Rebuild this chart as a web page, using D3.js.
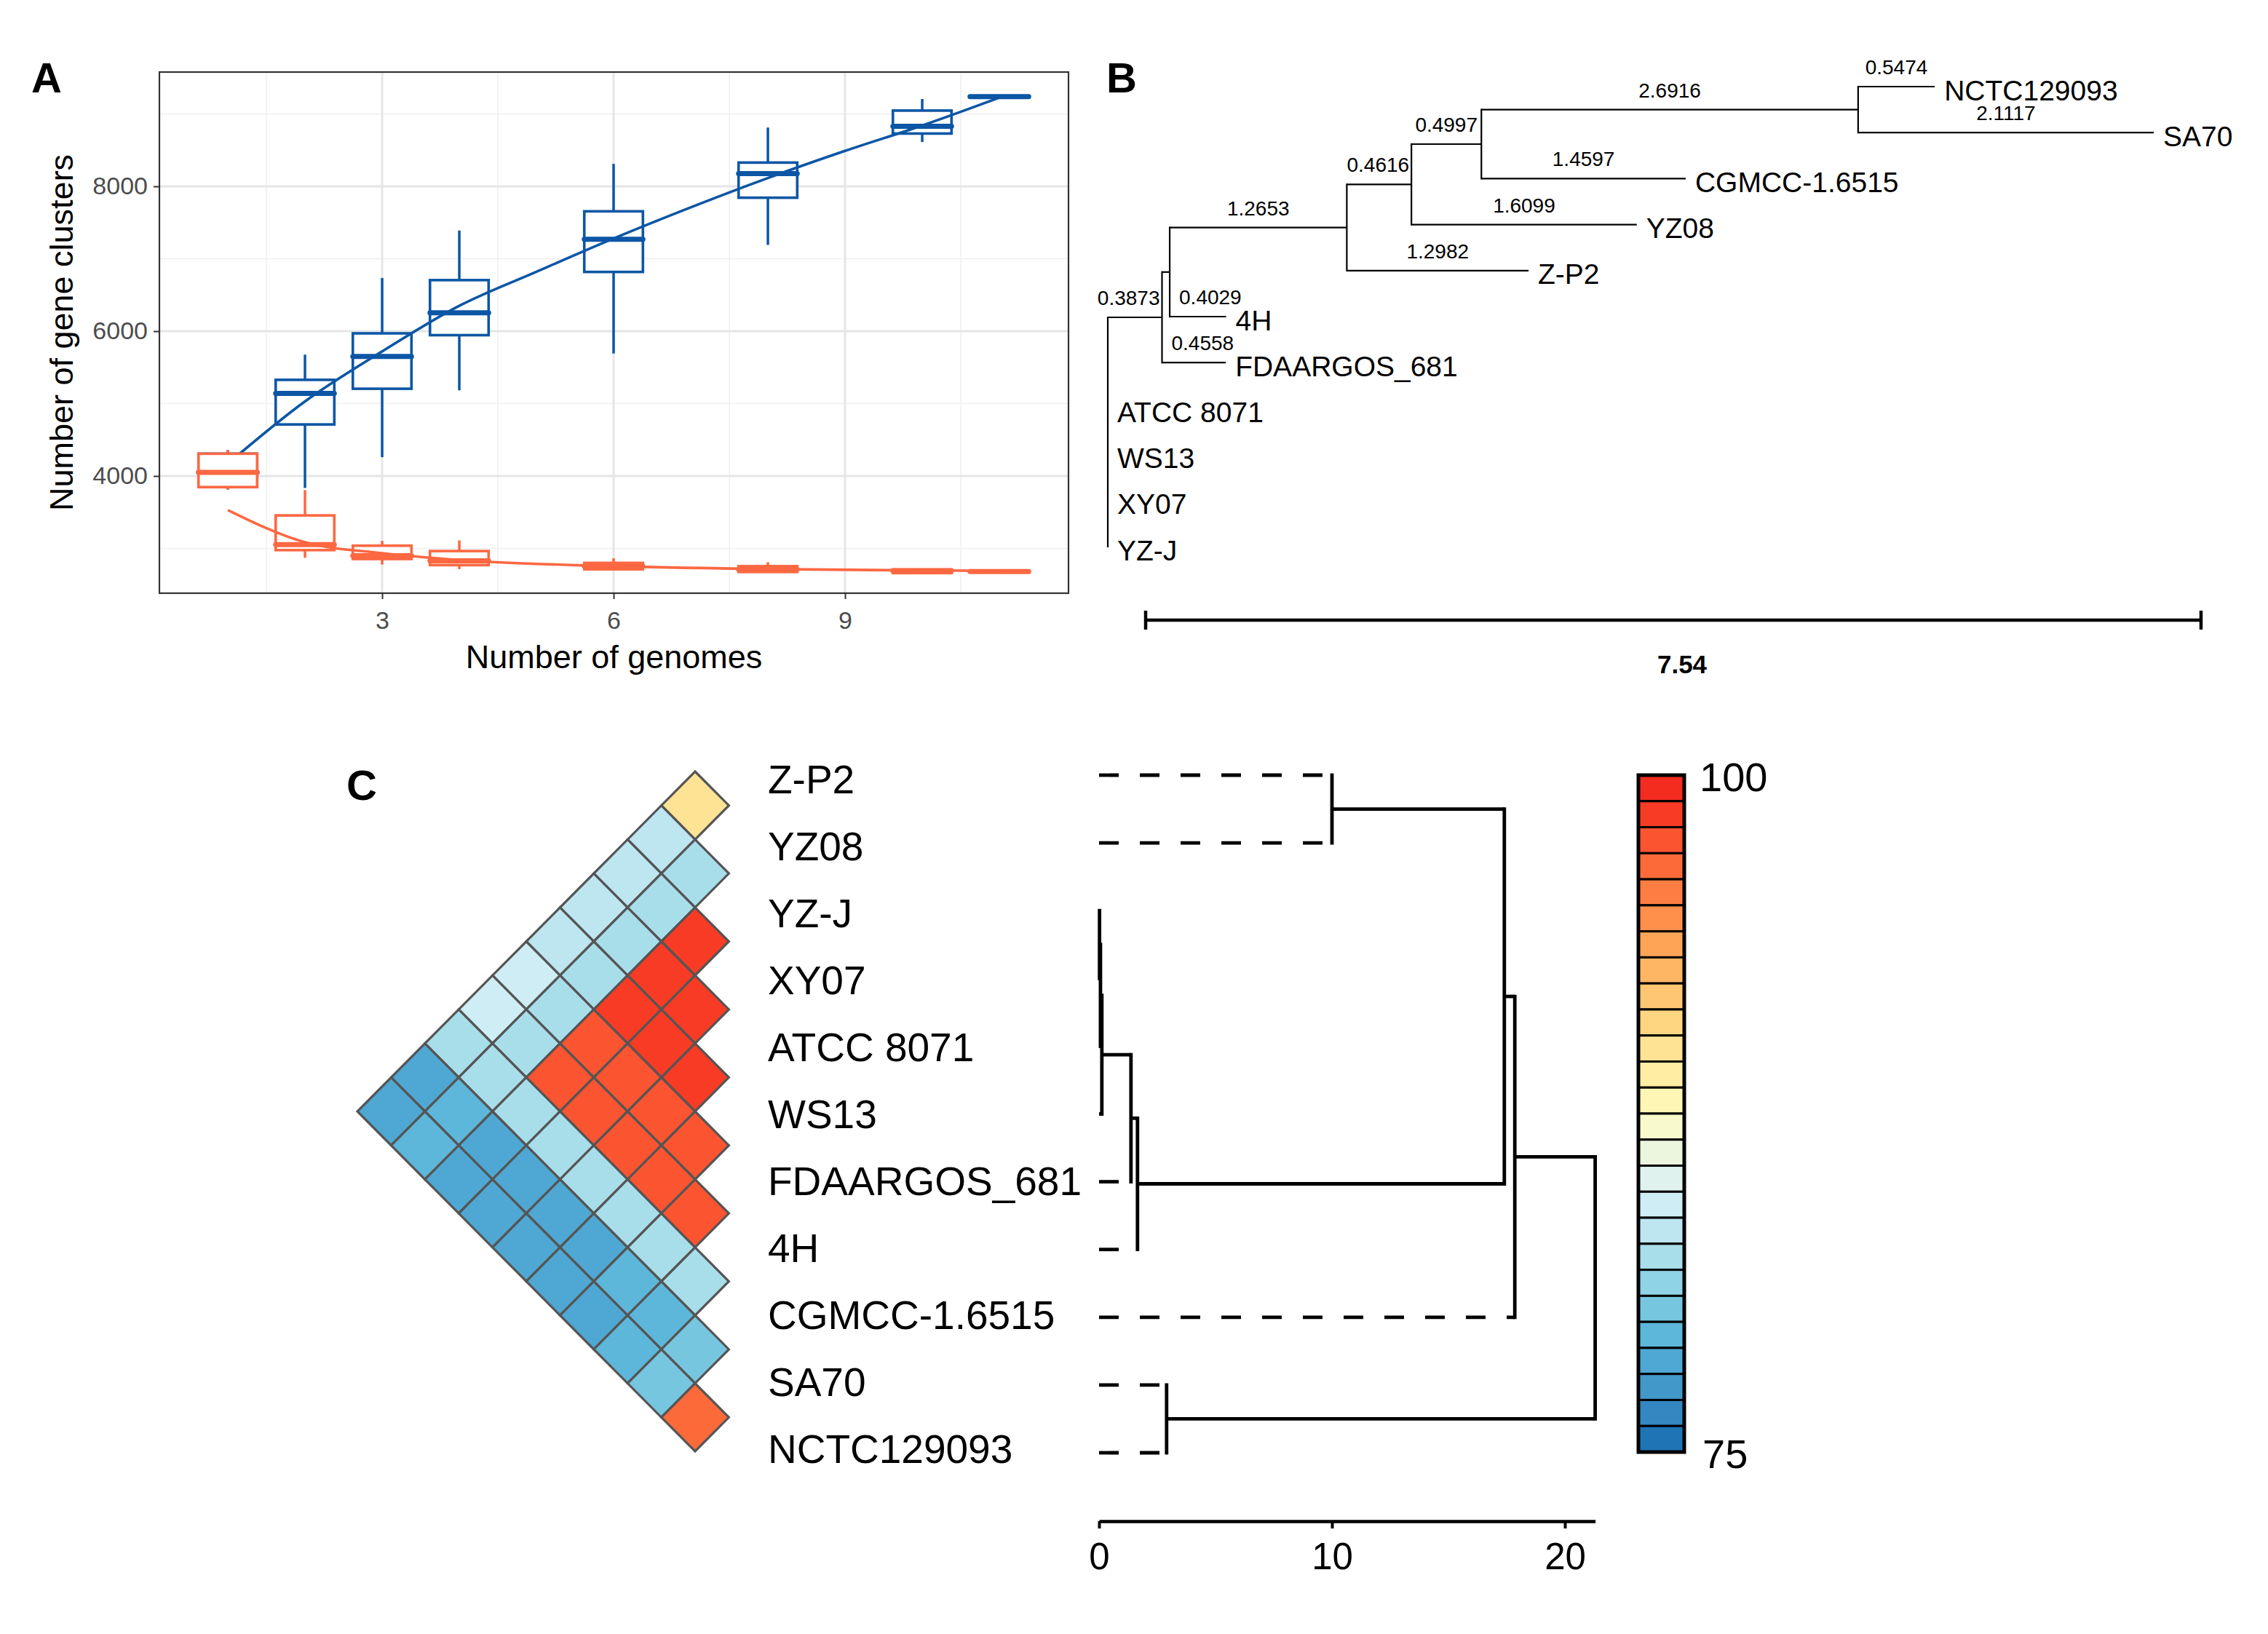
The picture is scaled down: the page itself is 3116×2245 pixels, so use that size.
<!DOCTYPE html>
<html><head><meta charset="utf-8">
<script src="https://cdn.jsdelivr.net/npm/d3@7"></script>
<style>
body{margin:0;background:#fff;}
svg{display:block;font-family:"Liberation Sans",Arial,Helvetica,sans-serif;}
</style>
</head><body>
<svg id="fig" width="3116" height="2245"></svg>
<script>
// ================= DATA =================
// ---- Panel A : pan / core genome curves ----
const genomeCounts = [1, 2, 3, 4, 6, 8, 10, 11];
// each box: [lower whisker, Q1, median, Q3, upper whisker]
const panBoxes = [
  [3813, 3847, 4050, 4308, 4358],
  [3835, 4712, 5140, 5328, 5676],
  [4260, 5205, 5650, 5970, 6735],
  [5183, 5945, 6255, 6705, 7390],
  [5692, 6818, 7270, 7655, 8310],
  [7191, 7843, 8177, 8328, 8812],
  [8612, 8729, 8829, 9046, 9206],
  [9238, 9238, 9238, 9238, 9238]
];
const coreBoxes = [
  [3813, 3847, 4050, 4308, 4358],
  [2870, 2977, 3054, 3456, 3806],
  [2777, 2854, 2900, 3038, 3105],
  [2714, 2770, 2830, 2964, 3111],
  [2697, 2712, 2755, 2800, 2864],
  [2670, 2675, 2712, 2755, 2810],
  [2655, 2660, 2692, 2710, 2720],
  [2680, 2680, 2680, 2680, 2680]
];
const panCurveX = [1, 2, 3, 4, 5, 6, 7, 8, 9, 10, 11];
const panCurveY = [4170, 5030, 5720, 6350, 6820, 7280, 7710, 8115, 8490, 8840, 9225];
const coreCurveX = [1, 2, 3, 4, 6, 8, 10, 11];
const coreCurveY = [3530, 3085, 2935, 2840, 2755, 2715, 2697, 2690];
const yTicksA = [4000, 6000, 8000];
const yMinorA = [3000, 5000, 7000, 9000];
const xTicksA = [3, 6, 9];
const xMinorA = [1.5, 4.5, 7.5, 10.5];

// ---- Panel B : phylogenetic tree (pre-order) ----
const treeIds     = ["root","n1","n2","n3","n4","n5","n6","NCTC129093","SA70","CGMCC-1.6515","YZ08","Z-P2","4H","FDAARGOS_681","ATCC 8071","WS13","XY07","YZ-J"];
const treeParents = ["",    "root","n1","n2","n3","n4","n5","n6","n6","n5","n4","n3","n2","n1","root","root","root","root"];
const treeLengths = [0, 0.3873, 0.055, 1.2653, 0.4616, 0.4997, 2.6916, 0.5474, 2.1117, 1.4597, 1.6099, 1.2982, 0.4029, 0.4558, 0, 0, 0, 0];
const treeScaleValue = 7.54;

// ---- Panel C : identity heatmap + dendrogram ----
const strainsC = ["Z-P2","YZ08","YZ-J","XY07","ATCC 8071","WS13","FDAARGOS_681","4H","CGMCC-1.6515","SA70","NCTC129093"];
// identityRows[i] = values of strain i against strains i+1 .. 10
const identityRows = [
  [89.9, 83.2, 83.2, 83.2, 83.2, 84.1, 84.1, 82.2, 78.4, 78.4],
  [82.2, 82.2, 82.2, 82.2, 82.2, 82.2, 82.2, 79.3, 79.3],
  [98.6, 98.6, 98.6, 97.6, 97.6, 82.2, 78.4, 78.4],
  [98.6, 98.6, 97.6, 97.6, 82.2, 78.4, 78.4],
  [98.6, 97.6, 97.6, 82.2, 78.4, 78.4],
  [97.6, 97.6, 82.2, 78.4, 78.4],
  [97.6, 82.2, 79.3, 78.4],
  [82.2, 79.3, 79.3],
  [80.3, 80.0],
  [96.6]
];
const dendroIds     = ["root","b","a","g1","Z-P2","YZ08","e","d","c3","c2","c1","YZ-J","XY07","ATCC 8071","WS13","FDAARGOS_681","4H","CGMCC-1.6515","f","SA70","NCTC129093"];
const dendroParents = ["",    "root","b","a","g1","g1","a","e","d","c3","c2","c1","c1","c2","c3","d","e","b","root","f","f"];
const dendroHeights = [21.3, 17.85, 17.4, 10.0, 0, 0, 1.65, 1.37, 0.12, 0.06, 0.02, 0, 0, 0, 0, 0, 0, 0, 2.9, 0, 0];
const dendroTicks = [0, 10, 20];
const colorbarLabels = ["100", "75"];
const colorDomain = [75, 100];
// colour key, top (100) to bottom (75)
const palette = ["#F42B1F","#F73B24","#FB5430","#FC6A3A","#FD7D43","#FE904C","#FEA457","#FEB664","#FEC672","#FED580",
                 "#FEE395","#FEEDA3","#FEF6B5","#F9FACB","#ECF6DF","#DFF2EE","#CFEDF5","#BEE6F1","#A8DEEA","#8FD3E6",
                 "#76C6E0","#5DB7DA","#4FA8D3","#4398CA","#3487C0","#1F74B6"];

// ================= DRAW =================
const svg = d3.select("#fig");
svg.append("rect").attr("width",3116).attr("height",2245).attr("fill","#fff");

function panelLabel(t, x, y){
  svg.append("text").attr("x",x).attr("y",y).attr("font-size",58).attr("font-weight","bold").attr("fill","#000").text(t);
}

// ---------- Panel A ----------
const PA = {l:219, r:1468, t:99, b:815};
const xA = d3.scaleLinear().domain([0.113, 11.896]).range([PA.l, PA.r]);
const yA = d3.scaleLinear().domain([2382, 9578]).range([PA.b, PA.t]);
const gA = svg.append("g");

// grid
gA.selectAll(".vmin").data(xMinorA).join("line")
  .attr("x1",d=>xA(d)).attr("x2",d=>xA(d)).attr("y1",PA.t).attr("y2",PA.b)
  .attr("stroke","#EFEFEF").attr("stroke-width",1.5);
gA.selectAll(".hmin").data(yMinorA).join("line")
  .attr("y1",d=>yA(d)).attr("y2",d=>yA(d)).attr("x1",PA.l).attr("x2",PA.r)
  .attr("stroke","#EFEFEF").attr("stroke-width",1.5);
gA.selectAll(".vmaj").data(xTicksA).join("line")
  .attr("x1",d=>xA(d)).attr("x2",d=>xA(d)).attr("y1",PA.t).attr("y2",PA.b)
  .attr("stroke","#E6E6E6").attr("stroke-width",3);
gA.selectAll(".hmaj").data(yTicksA).join("line")
  .attr("y1",d=>yA(d)).attr("y2",d=>yA(d)).attr("x1",PA.l).attr("x2",PA.r)
  .attr("stroke","#E6E6E6").attr("stroke-width",3);

const boxHalf = 0.38;
function drawBoxes(stats, color){
  const g = gA.append("g");
  stats.forEach((s, i) => {
    const x = genomeCounts[i];
    const cx = xA(x), x0 = xA(x - boxHalf), x1 = xA(x + boxHalf);
    g.append("line").attr("x1",cx).attr("x2",cx).attr("y1",yA(s[0])).attr("y2",yA(s[1]))
      .attr("stroke",color).attr("stroke-width",3.5);
    g.append("line").attr("x1",cx).attr("x2",cx).attr("y1",yA(s[3])).attr("y2",yA(s[4]))
      .attr("stroke",color).attr("stroke-width",3.5);
    g.append("rect").attr("x",x0).attr("y",yA(s[3])).attr("width",x1-x0)
      .attr("height",Math.max(0.01, yA(s[1])-yA(s[3])))
      .attr("fill","#fff").attr("stroke",color).attr("stroke-width",3.6);
    g.append("line").attr("x1",x0).attr("x2",x1).attr("y1",yA(s[2])).attr("y2",yA(s[2]))
      .attr("stroke",color).attr("stroke-width",7).attr("stroke-linecap","round");
  });
}
const blue = "#0C56A5", orange = "#FC6842";
const lineA = d3.line().x(d=>xA(d[0])).y(d=>yA(d[1])).curve(d3.curveMonotoneX);

drawBoxes(panBoxes, blue);
gA.append("path").datum(d3.zip(panCurveX, panCurveY)).attr("d", lineA)
  .attr("fill","none").attr("stroke",blue).attr("stroke-width",3.6);
drawBoxes(coreBoxes, orange);
gA.append("path").datum(d3.zip(coreCurveX, coreCurveY)).attr("d", lineA)
  .attr("fill","none").attr("stroke",orange).attr("stroke-width",3.6);

// border
gA.append("rect").attr("x",PA.l).attr("y",PA.t).attr("width",PA.r-PA.l).attr("height",PA.b-PA.t)
  .attr("fill","none").attr("stroke","#333").attr("stroke-width",2.2);

// axes
const axL = gA.append("g").attr("transform",`translate(${PA.l},0)`)
  .call(d3.axisLeft(yA).tickValues(yTicksA).tickSize(8).tickPadding(8).tickFormat(d3.format("d")));
const axB = gA.append("g").attr("transform",`translate(0,${PA.b})`)
  .call(d3.axisBottom(xA).tickValues(xTicksA).tickSize(8).tickPadding(17));
[axL, axB].forEach(a => {
  a.select(".domain").remove();
  a.selectAll(".tick line").attr("stroke","#333").attr("stroke-width",2);
  a.selectAll(".tick text").attr("font-size",34).attr("fill","#4D4D4D")
    .attr("font-family","Liberation Sans, Arial, sans-serif");
});
gA.append("text").attr("x",(PA.l+PA.r)/2).attr("y",918).attr("text-anchor","middle")
  .attr("font-size",45).attr("fill","#000").text("Number of genomes");
gA.append("text").attr("transform",`translate(100,${(PA.t+PA.b)/2}) rotate(-90)`)
  .attr("text-anchor","middle").attr("font-size",45).attr("fill","#000").text("Number of gene clusters");
panelLabel("A", 43, 127);

// ---------- Panel B : tree ----------
const gB = svg.append("g");
const treeTable = treeIds.map((id,i)=>({id, parent:treeParents[i], len:treeLengths[i]}));
const tRoot = d3.stratify().id(d=>d.id).parentId(d=>d.parent||null)(treeTable);
const xsB = d3.scaleLinear().domain([0, treeScaleValue]).range([1522, 2972]);
tRoot.eachBefore(n => { n.dist = n.parent ? n.parent.dist + n.data.len : 0; });
const tLeaves = tRoot.leaves();
const yB = d3.scalePoint().domain(tLeaves.map(d=>d.id)).range([119, 751]);
tRoot.eachAfter(n => {
  if (!n.children) n.y = yB(n.id);
  else n.y = (n.children[0].y + n.children[n.children.length-1].y) / 2;
});
const treeStroke = 2.2;
tRoot.descendants().forEach(n => {
  if (n.parent && n.data.len > 0) {
    gB.append("line").attr("x1",xsB(n.parent.dist)).attr("x2",xsB(n.dist)).attr("y1",n.y).attr("y2",n.y)
      .attr("stroke","#000").attr("stroke-width",treeStroke);
  }
  if (n.children) {
    gB.append("line").attr("x1",xsB(n.dist)).attr("x2",xsB(n.dist))
      .attr("y1",n.children[0].y - treeStroke/2).attr("y2",n.children[n.children.length-1].y + treeStroke/2)
      .attr("stroke","#000").attr("stroke-width",treeStroke);
  }
});
// leaf labels
tLeaves.forEach(n => {
  gB.append("text").attr("x",xsB(n.dist)+13).attr("y",n.y+5).attr("dy","0.35em")
    .attr("font-size",39).attr("fill","#000").text(n.id);
});
// branch length labels
function vSpan(n){ return [n.children[0].y, n.children[n.children.length-1].y]; }
tRoot.descendants().forEach(n => {
  if (!n.parent || n.data.len < 0.1) return;
  const px = xsB(n.parent.dist), nx = xsB(n.dist);
  const t = gB.append("text").attr("y", n.y - 17).attr("font-size",28).attr("fill","#000")
    .text(n.data.len.toFixed(4));
  const w = t.node().getComputedTextLength();
  let l = (px + nx)/2 - w/2;
  const band = [n.y - 17 - 21, n.y - 17];
  const [ps0, ps1] = vSpan(n.parent);
  if (l < px + 4 && ps1 > band[0] && ps0 < band[1]) l = px + 13;
  if (n.children) {
    const [s0, s1] = vSpan(n);
    if (l + w > nx - 3 && s1 > band[0] && s0 < band[1]) l = nx - 3 - w;
  }
  t.attr("x", l);
});
// scale bar
const sbY = 852, sb0 = 1574, sb1 = sb0 + (xsB(treeScaleValue) - xsB(0));
gB.append("line").attr("x1",sb0).attr("x2",sb1).attr("y1",sbY).attr("y2",sbY).attr("stroke","#000").attr("stroke-width",4.5);
[sb0, sb1].forEach(x => gB.append("line").attr("x1",x).attr("x2",x).attr("y1",sbY-13).attr("y2",sbY+13)
  .attr("stroke","#000").attr("stroke-width",4.5));
gB.append("text").attr("x",(sb0+sb1)/2+12).attr("y",925).attr("text-anchor","middle")
  .attr("font-size",35).attr("font-weight","bold").text(String(treeScaleValue));
panelLabel("B", 1520, 127);

// ---------- Panel C ----------
const gC = svg.append("g");
const colorQ = d3.scaleQuantize().domain(colorDomain).range(palette.slice().reverse());
const yH = d3.scalePoint().domain(strainsC).range([1060, 1994]);
const hv = yH.step()/2, hh = 46.4, xRightCenter = 955;
const cells = [];
identityRows.forEach((row, i) => row.forEach((v, k) => cells.push({i, j: i + 1 + k, v})));
gC.selectAll("path.cell").data(cells).join("path")
  .attr("d", d => {
    const cx = xRightCenter - (d.j - d.i - 1) * hh;
    const cy = (yH(strainsC[d.i]) + yH(strainsC[d.j])) / 2;
    return `M${cx},${cy-hv}L${cx+hh},${cy}L${cx},${cy+hv}L${cx-hh},${cy}Z`;
  })
  .attr("fill", d => colorQ(d.v)).attr("stroke","#555").attr("stroke-width",3.2).attr("stroke-linejoin","miter");

// strain labels
const yLab = d3.scalePoint().domain(strainsC).range([1071, 1991]);
gC.selectAll("text.lab").data(strainsC).join("text")
  .attr("x",1055).attr("y",d=>yLab(d)).attr("dy","0.35em")
  .attr("font-size",55).attr("fill","#000").text(d=>d);

// dendrogram
const dTable = dendroIds.map((id,i)=>({id, parent:dendroParents[i], h:dendroHeights[i]}));
const dRoot = d3.stratify().id(d=>d.id).parentId(d=>d.parent||null)(dTable);
const xD = d3.scaleLinear().domain([0, 21.3]).range([1510, 1510 + 21.3*32]);
const yD = d3.scalePoint().domain(strainsC).range([1065, 1996]);
dRoot.eachAfter(n => {
  if (!n.children) n.y = yD(n.id);
  else n.y = (n.children[0].y + n.children[n.children.length-1].y)/2;
});
const dStroke = 4.8;
dRoot.descendants().forEach(n => {
  if (n.parent) {
    const ln = gC.append("line").attr("x1",xD(n.data.h)).attr("x2",xD(n.parent.data.h))
      .attr("y1",n.y).attr("y2",n.y).attr("stroke","#000").attr("stroke-width",dStroke);
    if (!n.children) ln.attr("stroke-dasharray","27,29");
  }
  if (n.children) {
    gC.append("line").attr("x1",xD(n.data.h)).attr("x2",xD(n.data.h))
      .attr("y1",n.children[0].y - dStroke/2).attr("y2",n.children[n.children.length-1].y + dStroke/2)
      .attr("stroke","#000").attr("stroke-width",dStroke);
  }
});
const axD = gC.append("g").attr("transform","translate(0,2090)")
  .call(d3.axisBottom(xD).tickValues(dendroTicks).tickSize(10).tickSizeOuter(0).tickPadding(20));
axD.select(".domain").attr("stroke","#000").attr("stroke-width",4.5);
axD.selectAll(".tick line").attr("stroke","#000").attr("stroke-width",4);
axD.selectAll(".tick text").attr("font-size",51).attr("fill","#000")
  .attr("font-family","Liberation Sans, Arial, sans-serif");

// colour key
const cbX = 2251, cbW = 63;
const cbY = d3.scaleBand().domain(d3.range(palette.length)).range([1065, 1995]);
gC.selectAll("rect.sw").data(palette).join("rect")
  .attr("x",cbX).attr("y",(d,i)=>cbY(i)).attr("width",cbW).attr("height",cbY.bandwidth())
  .attr("fill",d=>d).attr("stroke","#000").attr("stroke-width",3);
gC.append("rect").attr("x",cbX).attr("y",1065).attr("width",cbW).attr("height",930)
  .attr("fill","none").attr("stroke","#000").attr("stroke-width",5);
gC.append("text").attr("x",2335).attr("y",1067).attr("dy","0.35em").attr("font-size",56).text(colorbarLabels[0]);
gC.append("text").attr("x",2339).attr("y",1997).attr("dy","0.35em").attr("font-size",56).text(colorbarLabels[1]);
panelLabel("C", 476, 1099);
</script>
</body></html>
